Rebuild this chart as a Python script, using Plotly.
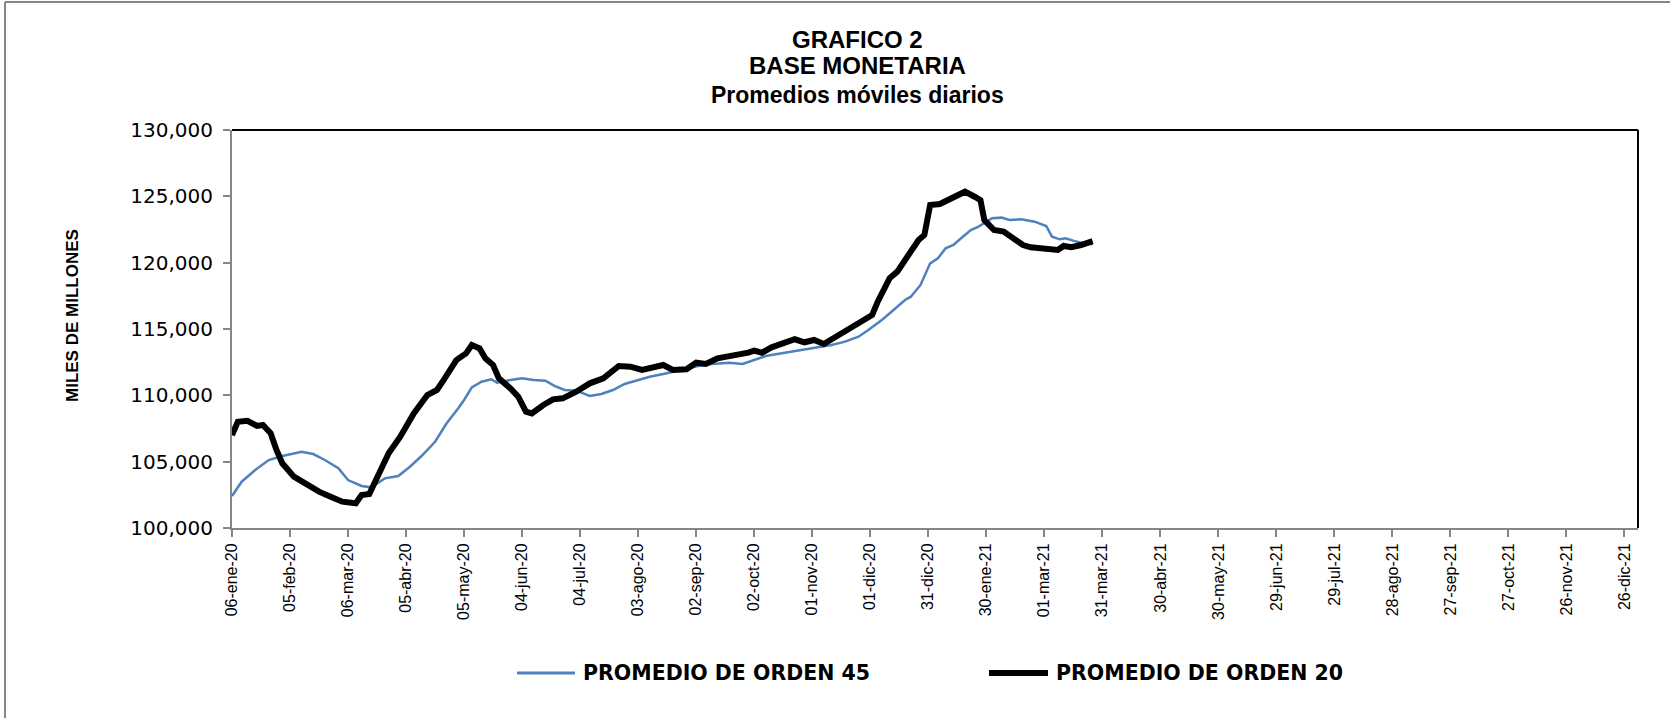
import plotly.graph_objects as go

# ---- data ----
orden20_dates = [
    "2020-01-06", "2020-01-09", "2020-01-14", "2020-01-19", "2020-01-22", "2020-01-26",
    "2020-01-29", "2020-02-01", "2020-02-07", "2020-02-14", "2020-02-20", "2020-02-26",
    "2020-03-03", "2020-03-10", "2020-03-13", "2020-03-17", "2020-03-21", "2020-03-27",
    "2020-04-02", "2020-04-09", "2020-04-16", "2020-04-21", "2020-04-25", "2020-05-01",
    "2020-05-06", "2020-05-09", "2020-05-13", "2020-05-16", "2020-05-20", "2020-05-23",
    "2020-05-29", "2020-06-02", "2020-06-06", "2020-06-09", "2020-06-15", "2020-06-20",
    "2020-06-25", "2020-07-02", "2020-07-09", "2020-07-16", "2020-07-24", "2020-07-30",
    "2020-08-05", "2020-08-11", "2020-08-16", "2020-08-21", "2020-08-28", "2020-09-02",
    "2020-09-07", "2020-09-13", "2020-09-18", "2020-09-24", "2020-09-29", "2020-10-02",
    "2020-10-06", "2020-10-11", "2020-10-16", "2020-10-23", "2020-10-28", "2020-11-02",
    "2020-11-07", "2020-11-11", "2020-11-16", "2020-11-21", "2020-11-26", "2020-12-02",
    "2020-12-05", "2020-12-08", "2020-12-11", "2020-12-15", "2020-12-19", "2020-12-22",
    "2020-12-26", "2020-12-29", "2021-01-01", "2021-01-06", "2021-01-10", "2021-01-14",
    "2021-01-19", "2021-01-24", "2021-01-27", "2021-01-29", "2021-02-03", "2021-02-08",
    "2021-02-13", "2021-02-18", "2021-02-22", "2021-03-01", "2021-03-08", "2021-03-11",
    "2021-03-15", "2021-03-20", "2021-03-26",
]
orden20_values = [
    107000, 108010, 108085, 107690, 107760, 107140,
    105880, 104875, 103870, 103240, 102740, 102360,
    101985, 101860, 102490, 102560, 103870, 105630,
    106880, 108640, 110020, 110400, 111280, 112660,
    113160, 113790, 113540, 112790, 112285, 111280,
    110525, 109900, 108765, 108640, 109270, 109700,
    109775, 110275, 110905, 111280, 112210, 112160,
    111910, 112160, 112285, 111910, 111960, 112460,
    112360, 112790, 112910, 113115, 113215, 113365,
    113215, 113620, 113870, 114225, 114000, 114170,
    113870, 114225, 114550, 115050, 115550, 116055,
    117100, 117940, 118820, 119325, 120205, 120710,
    121710, 122085, 124350, 124420, 124720, 125100,
    125350, 124970, 124720, 123215, 122460, 122340,
    121840, 121330, 121160, 121010, 120960, 121260,
    121160, 121330, 121630,
]

orden45_dates = [
    "2020-01-06", "2020-01-11", "2020-01-18", "2020-01-25", "2020-02-01", "2020-02-11",
    "2020-02-17", "2020-02-23", "2020-03-01", "2020-03-06", "2020-03-13", "2020-03-18",
    "2020-03-25", "2020-04-01", "2020-04-07", "2020-04-13", "2020-04-20", "2020-04-26",
    "2020-05-02", "2020-05-05", "2020-05-09", "2020-05-14", "2020-05-19", "2020-05-22",
    "2020-05-29", "2020-06-04", "2020-06-10", "2020-06-16", "2020-06-21", "2020-06-26",
    "2020-07-02", "2020-07-09", "2020-07-15", "2020-07-21", "2020-07-27", "2020-08-02",
    "2020-08-09", "2020-08-16", "2020-08-21", "2020-08-27", "2020-09-03", "2020-09-10",
    "2020-09-19", "2020-09-26", "2020-10-01", "2020-10-08", "2020-10-14", "2020-10-21",
    "2020-10-28", "2020-11-04", "2020-11-11", "2020-11-18", "2020-11-25", "2020-11-30",
    "2020-12-05", "2020-12-07", "2020-12-12", "2020-12-19", "2020-12-22", "2020-12-27",
    "2021-01-01", "2021-01-05", "2021-01-09", "2021-01-13", "2021-01-17", "2021-01-22",
    "2021-01-26", "2021-01-30", "2021-02-02", "2021-02-07", "2021-02-11", "2021-02-17",
    "2021-02-24", "2021-03-02", "2021-03-05", "2021-03-09", "2021-03-12", "2021-03-16",
    "2021-03-21", "2021-03-26",
]
orden45_values = [
    102410, 103490, 104370, 105120, 105425, 105750,
    105575, 105125, 104500, 103615, 103165, 103065,
    103740, 103920, 104620, 105425, 106500, 107890,
    109020, 109650, 110600, 111030, 111210, 110955,
    111155, 111280, 111155, 111105, 110700, 110400,
    110350, 109950, 110100, 110400, 110855, 111105,
    111405, 111610, 111780, 111960, 112210, 112360,
    112460, 112360, 112610, 112965, 113115, 113290,
    113470, 113670, 113795, 114045, 114420, 114925,
    115430, 115680, 116305, 117185, 117435, 118320,
    119950, 120330, 121085, 121330, 121840, 122460,
    122715, 123090, 123345, 123395, 123215, 123270,
    123090, 122765, 121960, 121760, 121840, 121660,
    121460, 121385,
]

tick_dates = [
    "2020-01-06", "2020-02-05", "2020-03-06", "2020-04-05", "2020-05-05", "2020-06-04",
    "2020-07-04", "2020-08-03", "2020-09-02", "2020-10-02", "2020-11-01", "2020-12-01",
    "2020-12-31", "2021-01-30", "2021-03-01", "2021-03-31", "2021-04-30", "2021-05-30",
    "2021-06-29", "2021-07-29", "2021-08-28", "2021-09-27", "2021-10-27", "2021-11-26",
    "2021-12-26",
]
tick_labels = [
    "06-ene-20", "05-feb-20", "06-mar-20", "05-abr-20", "05-may-20", "04-jun-20",
    "04-jul-20", "03-ago-20", "02-sep-20", "02-oct-20", "01-nov-20", "01-dic-20",
    "31-dic-20", "30-ene-21", "01-mar-21", "31-mar-21", "30-abr-21", "30-may-21",
    "29-jun-21", "29-jul-21", "28-ago-21", "27-sep-21", "27-oct-21", "26-nov-21",
    "26-dic-21",
]
y_ticks = [100000, 105000, 110000, 115000, 120000, 125000, 130000]

title_lines = ["GRAFICO 2", "BASE MONETARIA", "Promedios móviles diarios"]
series_names = ["PROMEDIO DE ORDEN 45", "PROMEDIO DE ORDEN 20"]

BLUE = "#4F81BD"
GRAY = "#868686"

# ---- layout geometry (pixels) ----
W, H = 1670, 718
L, R, T, B = 232, 1638, 130, 528
PW, PH = R - L, B - T


def px(x):
    return (x - L) / PW


def py(y):
    return (B - y) / PH


fig = go.Figure()
fig.add_trace(go.Scatter(x=orden45_dates, y=orden45_values, mode="lines",
                         name=series_names[0], line=dict(color=BLUE, width=2.5),
                         showlegend=False))
fig.add_trace(go.Scatter(x=orden20_dates, y=orden20_values, mode="lines",
                         name=series_names[1], line=dict(color="black", width=6),
                         showlegend=False))

annotations = []
for txt, yy, sz in zip(title_lines, [39, 65, 95], [24, 24, 23]):
    annotations.append(dict(text="<b>%s</b>" % txt, x=px(857), y=py(yy), xref="paper", yref="paper",
                            xanchor="center", yanchor="middle", showarrow=False,
                            font=dict(family="Liberation Sans", size=sz, color="black")))
annotations.append(dict(text="<b>MILES DE MILLONES</b>", x=px(72), y=py(316), xref="paper", yref="paper",
                        textangle=-90, xanchor="center", yanchor="middle", showarrow=False,
                        font=dict(family="Liberation Sans", size=17, color="black")))
# legend texts
annotations.append(dict(text="<b>%s</b>" % series_names[0], x=px(581), y=py(673), xref="paper", yref="paper",
                        xanchor="left", yanchor="middle", showarrow=False,
                        font=dict(family="DejaVu Sans", size=20.5, color="black")))
annotations.append(dict(text="<b>%s</b>" % series_names[1], x=px(1054), y=py(673), xref="paper", yref="paper",
                        xanchor="left", yanchor="middle", showarrow=False,
                        font=dict(family="DejaVu Sans", size=20.5, color="black")))

shapes = [
    # outer chart border (only top and left edges are inside the picture)
    dict(type="line", xref="paper", yref="paper", x0=px(5), x1=px(1670), y0=py(2), y1=py(2),
         line=dict(color=GRAY, width=2), layer="below"),
    dict(type="line", xref="paper", yref="paper", x0=px(5), x1=px(5), y0=py(2), y1=py(718),
         line=dict(color=GRAY, width=2), layer="below"),
    # plot area top and right border
    dict(type="line", xref="paper", yref="paper", x0=0, x1=1, y0=1, y1=1,
         line=dict(color="black", width=2)),
    dict(type="line", xref="paper", yref="paper", x0=1, x1=1, y0=0, y1=1,
         line=dict(color="black", width=2)),
    # legend symbols
    dict(type="line", xref="paper", yref="paper", x0=px(517), x1=px(575), y0=py(673), y1=py(673),
         line=dict(color=BLUE, width=3)),
    dict(type="line", xref="paper", yref="paper", x0=px(989), x1=px(1048), y0=py(673), y1=py(673),
         line=dict(color="black", width=6)),
]

fig.update_layout(
    width=W, height=H,
    margin=dict(l=L, r=W - R, t=T, b=H - B, pad=0),
    paper_bgcolor="white", plot_bgcolor="white",
    annotations=annotations, shapes=shapes,
    showlegend=False,
)
fig.update_xaxes(
    type="date", range=["2020-01-06", "2022-01-02"],
    tickvals=tick_dates, ticktext=tick_labels, tickangle=-90,
    ticks="outside", ticklen=7, tickcolor=GRAY, tickwidth=2,
    showline=True, linecolor=GRAY, linewidth=2,
    showgrid=False, zeroline=False,
    tickfont=dict(family="Liberation Sans", size=16, color="black"),
)
fig.update_yaxes(
    range=[100000, 130000], tickvals=y_ticks, tickformat=",",
    ticks="outside", ticklen=7, tickcolor=GRAY, tickwidth=2,
    showline=True, linecolor=GRAY, linewidth=2,
    showgrid=False, zeroline=False, ticklabelstandoff=6,
    tickfont=dict(family="DejaVu Sans", size=20, color="black"),
)

fig.write_html("out.html", config={"displayModeBar": False},
               post_script="document.body.style.margin='0';document.body.style.padding='0';")
